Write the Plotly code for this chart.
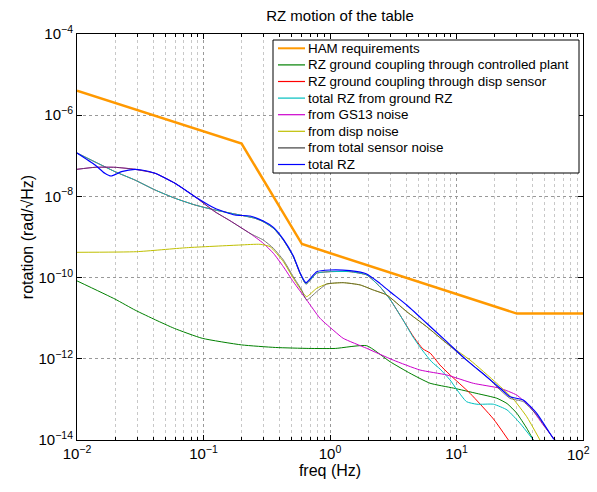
import plotly.graph_objects as go

# HAM requirements
ham_f = [0.01, 0.2, 0.6, 30, 100]
ham_v = [4e-6, 2e-7, 6.7e-10, 1.3e-11, 1.3e-11]

# RZ ground coupling through controlled plant
plant_f = [0.01, 0.02, 0.0288, 0.0417, 0.0589, 0.0977, 0.2, 0.37, 0.68, 1.1, 1.95,
           2.98, 4.29, 6.18, 9.45, 14.5, 20.8, 25.1, 29.9, 35.9, 40.5]
plant_v = [8.3e-11, 2.95e-11, 1.58e-11, 9.1e-12, 5.6e-12, 3.2e-12, 2.2e-12, 1.9e-12,
           1.8e-12, 1.8e-12, 2.1e-12, 8.5e-13, 4.4e-13, 2.5e-13, 1.9e-13, 1.4e-13,
           1.07e-13, 7.9e-14, 4.6e-14, 1.95e-14, 1e-14]

# RZ ground coupling through disp sensor
disp_f = [0.01, 0.02, 0.0287, 0.0414, 0.0596, 0.0857, 0.123, 0.177, 0.255, 0.297, 0.357,
          0.428, 0.513, 0.579, 0.646, 0.785, 1.0, 1.44, 1.95, 2.48, 2.98, 3.78,
          4.53, 5.43, 6.18, 7.41, 8.90, 12.8, 19.6, 25.7]
disp_v = [1.17e-7, 4.06e-8, 2.53e-8, 1.44e-8, 8.98e-9, 6.14e-9, 4.63e-9, 3.69e-9,
          2.89e-9, 2.38e-9, 1.64e-9, 8.43e-10, 3.27e-10, 1.28e-10, 6.95e-11, 1.28e-10,
          1.40e-10, 1.40e-10, 1.16e-10, 5.97e-11, 2.92e-11, 9.04e-12, 3.65e-12,
          1.75e-12, 1.39e-12, 7.0e-13, 4.0e-13, 1.41e-13, 3.29e-14, 1e-14]

# total RZ from ground RZ
ground_f = [0.01, 0.02, 0.0287, 0.0414, 0.0596, 0.0857, 0.123, 0.177, 0.255, 0.297, 0.357,
            0.428, 0.513, 0.579, 0.646, 0.785, 1.0, 1.44, 1.95, 2.48, 2.98, 3.78,
            4.53, 5.43, 6.40, 7.41, 8.90, 10.1, 12.0, 14.5, 19.6, 25.1, 31.8, 40.5]
ground_v = [1.17e-7, 4.06e-8, 2.53e-8, 1.44e-8, 8.98e-9, 6.14e-9, 4.63e-9, 3.69e-9,
            2.89e-9, 2.38e-9, 1.64e-9, 8.43e-10, 3.27e-10, 1.28e-10, 6.95e-11, 1.28e-10,
            1.40e-10, 1.40e-10, 1.16e-10, 5.97e-11, 2.92e-11, 9.04e-12, 3.45e-12,
            1.55e-12, 8.3e-13, 5.6e-13, 3.0e-13, 1.71e-13, 8.8e-14, 7.6e-14, 7.6e-14,
            5.5e-14, 2.58e-14, 1e-14]

# from GS13 noise
gs13_f = [0.01, 0.0139, 0.02, 0.0287, 0.0414, 0.0596, 0.0857, 0.123, 0.162, 0.233, 0.297,
          0.357, 0.428, 0.513, 0.654, 0.834, 1.096, 1.27, 1.95, 3.16, 5.14, 8.37, 13.6,
          22.1, 29.9, 38.1, 48.5, 60.1]
gs13_v = [4.65e-8, 5.21e-8, 5.21e-8, 4.65e-8, 3.71e-8, 2.10e-8, 9.8e-9, 4.20e-9, 2.52e-9,
          1.23e-9, 7.0e-10, 3.97e-10, 1.85e-10, 7.9e-11, 2.81e-11, 9.95e-12, 4.65e-12,
          3.20e-12, 1.81e-12, 9.3e-13, 5.3e-13, 4.0e-13, 2.49e-13, 1.88e-13, 1.28e-13,
          6.6e-14, 2.34e-14, 1e-14]

# from disp noise
dn_f = [0.01, 0.0296, 0.0736, 0.194, 0.280, 0.336, 0.428, 0.513, 0.615, 0.654, 0.785,
        0.942, 1.27, 1.73, 2.20, 2.81, 4.04, 5.81, 8.37, 12.8, 20.8, 28.1, 35.9, 45.7]
dn_v = [4.20e-10, 4.35e-10, 5.45e-10, 6.35e-10, 6.61e-10, 5.77e-10, 2.47e-10, 9.6e-11,
        4.10e-11, 3.39e-11, 5.45e-11, 6.95e-11, 7.5e-11, 6.6e-11, 4.95e-11, 3.73e-11,
        1.45e-11, 6.18e-12, 2.41e-12, 9.3e-13, 2.49e-13, 1.02e-13, 3.75e-14, 1e-14]

# from total sensor noise
sn_f = [0.01, 0.0139, 0.02, 0.0287, 0.0414, 0.0596, 0.0857, 0.123, 0.162, 0.233, 0.297,
        0.357, 0.428, 0.513, 0.597, 0.654, 0.785, 0.942, 1.27, 1.73, 2.20, 2.81, 4.04,
        5.81, 8.37, 12.0, 17.3, 22.1, 26.5, 33.7, 43.1, 58.2, 60.1]
sn_v = [4.65e-8, 5.21e-8, 5.21e-8, 4.65e-8, 3.71e-8, 2.10e-8, 9.8e-9, 4.20e-9, 2.52e-9,
        1.23e-9, 8.43e-10, 5.27e-10, 2.71e-10, 1.05e-10, 4.95e-11, 2.81e-11, 4.50e-11,
        6.95e-11, 7.5e-11, 6.6e-11, 4.95e-11, 3.73e-11, 1.45e-11, 6.18e-12, 2.41e-12,
        9.3e-13, 3.62e-13, 1.71e-13, 1.06e-13, 8.8e-14, 4.13e-14, 1.10e-14, 1e-14]

# total RZ
tot_f = [0.01, 0.0139, 0.0166, 0.0186, 0.0225, 0.0287, 0.0324, 0.0414, 0.0596, 0.0857,
         0.123, 0.177, 0.233, 0.297, 0.357, 0.428, 0.513, 0.579, 0.646, 0.785, 1.0, 1.44,
         1.95, 2.48, 2.98, 4.04, 5.81, 8.37, 12.0, 17.3, 22.1, 26.5, 33.7, 43.1, 58.2, 60.1]
tot_v = [1.17e-7, 5.93e-8, 3.71e-8, 3.18e-8, 4.06e-8, 4.65e-8, 4.47e-8, 3.71e-8, 2.10e-8,
         9.8e-9, 5.09e-9, 3.48e-9, 3.29e-9, 2.48e-9, 1.73e-9, 8.77e-10, 3.41e-10, 1.32e-10,
         7.5e-11, 1.40e-10, 1.54e-10, 1.48e-10, 1.23e-10, 7.2e-11, 4.50e-11, 2.11e-11,
         7.49e-12, 2.64e-12, 9.3e-13, 3.62e-13, 1.88e-13, 1.16e-13, 9.7e-14, 4.55e-14,
         1.10e-14, 1e-14]

x_ticks = [0.01, 0.1, 1, 10, 100]
x_labels = ["10<sup>−2</sup>", "10<sup>−1</sup>", "10<sup>0</sup>", "10<sup>1</sup>", "10<sup>2</sup>"]
y_ticks = [1e-14, 1e-12, 1e-10, 1e-8, 1e-6, 1e-4]
y_labels = ["10<sup>−14</sup>", "10<sup>−12</sup>", "10<sup>−10</sup>",
            "10<sup>−8</sup>", "10<sup>−6</sup>", "10<sup>−4</sup>"]

series = [
    ("HAM requirements", ham_f, ham_v, "#FF9900", 2.5, 1.0, "linear"),
    ("RZ ground coupling through controlled plant", plant_f, plant_v, "#008000", 1, 1.0, "spline"),
    ("RZ ground coupling through disp sensor", disp_f, disp_v, "#FF0000", 1, 1.0, "spline"),
    ("total RZ from ground RZ", ground_f, ground_v, "#00BFBF", 1, 1.0, "spline"),
    ("from GS13 noise", gs13_f, gs13_v, "#CC00CC", 1, 1.0, "spline"),
    ("from disp noise", dn_f, dn_v, "#BFBF00", 1, 1.0, "spline"),
    ("from total sensor noise", sn_f, sn_v, "#404040", 1, 0.7, "spline"),
    ("total RZ", tot_f, tot_v, "#0000FF", 1.2, 1.0, "spline"),
]

# plot area in pixels, used to place the hand-made legend box
L, R, T, B = 77, 583, 34, 440
def px(x):
    return (x - L) / (R - L)
def py(y):
    return 1 - (y - T) / (B - T)

fig = go.Figure()
shapes = [dict(type="rect", xref="paper", yref="paper", layer="above",
               x0=px(273), x1=px(579), y0=py(40), y1=py(173),
               fillcolor="white", line=dict(color="black", width=1))]
annotations = []
for i, (name, f, v, col, w, op, shp) in enumerate(series):
    line = dict(color=col, width=w, shape=shp)
    if shp == "spline":
        line["smoothing"] = 0.5
    fig.add_trace(go.Scatter(x=f, y=v, mode="lines", name=name, opacity=op,
                             line=line, showlegend=False))
    row_y = 48.3 + 16.6 * i
    shapes.append(dict(type="line", xref="paper", yref="paper",
                       x0=px(278), x1=px(305), y0=py(row_y), y1=py(row_y),
                       line=dict(color=col, width=2 if w > 2 else 1.2)))
    annotations.append(dict(text=name, xref="paper", yref="paper", x=px(306), y=py(row_y),
                            xanchor="left", yanchor="middle", showarrow=False,
                            font=dict(size=13.4, color="black")))

# last x tick label sits flush with the right edge, drawn by hand so it is not cut
annotations.append(dict(text=x_labels[-1], xref="paper", yref="paper", x=px(578), y=0,
                        xanchor="center", yanchor="top", yshift=-2, showarrow=False,
                        font=dict(size=15, color="black")))

x_minor = [k * 10.0 ** d for d in range(-2, 2) for k in range(2, 10)]
font = "Liberation Sans, Arial, sans-serif"

fig.update_xaxes(type="log", range=[-2, 2],
                 tickvals=x_ticks, ticktext=x_labels[:-1] + [""],
                 ticks="inside", ticklen=5, tickcolor="black",
                 showline=True, linecolor="black", linewidth=1, mirror="ticks",
                 showgrid=True, gridcolor="#999999", griddash="dot", gridwidth=1,
                 minor=dict(tickvals=x_minor, ticks="inside", ticklen=3, tickcolor="black",
                            showgrid=True, gridcolor="#c8c8c8", griddash="dot"),
                 zeroline=False, tickfont=dict(size=15, color="black"),
                 title=dict(text="freq (Hz)", font=dict(size=16, color="black"), standoff=2))
fig.update_yaxes(type="log", range=[-14, -4],
                 tickvals=y_ticks, ticktext=y_labels,
                 ticks="inside", ticklen=5, tickcolor="black",
                 showline=True, linecolor="black", linewidth=1, mirror="ticks",
                 showgrid=True, gridcolor="#999999", griddash="dot", gridwidth=1,
                 zeroline=False, tickfont=dict(size=15, color="black"),
                 title=dict(text="rotation (rad/√Hz)", font=dict(size=16, color="black"), standoff=0))

fig.update_layout(
    width=597, height=492,
    margin=dict(l=L, r=597 - R, t=T, b=492 - B),
    paper_bgcolor="white", plot_bgcolor="white",
    font=dict(family=font, color="black"),
    title=dict(text="RZ motion of the table", x=px(340), xref="paper", xanchor="center",
               y=1 - 16 / 492, yanchor="middle", font=dict(size=15, color="black")),
    shapes=shapes,
    annotations=annotations,
    showlegend=False,
)

# the page body has a default 8px margin; drop it so the figure sits at the window corner
fig.write_html("out.html", config={"displayModeBar": False},
               post_script="document.body.style.margin='0';")
